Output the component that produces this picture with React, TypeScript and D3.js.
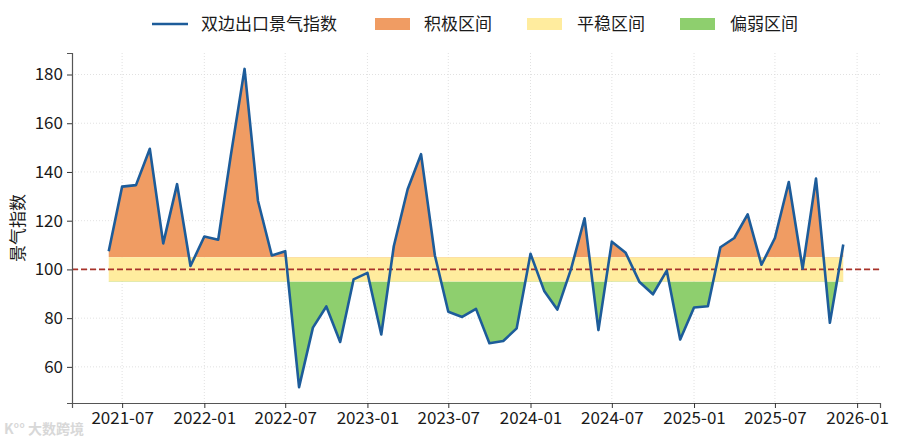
import * as d3 from "d3";
import { useEffect, useRef } from "react";

// monthly, 2021-06 .. 2025-12
const startMonth = "2021-06";
const indexValues = [
  107.5, 134.0, 134.6, 149.5, 110.7, 135.0, 101.4, 113.5, 112.2, 146.5,
  182.3, 128.2, 105.7, 107.5, 51.7, 76.1, 84.8, 70.2, 95.9, 98.6,
  73.3, 109.5, 132.9, 147.3, 105.7, 82.6, 80.5, 83.8, 69.7, 70.6,
  75.8, 106.4, 91.0, 83.5, 100.3, 121.0, 75.1, 111.4, 106.8, 94.8,
  89.8, 99.5, 71.2, 84.4, 84.9, 109.1, 112.9, 122.6, 101.9, 112.9,
  135.9, 100.3, 137.3, 78.1, 110.2,
];
const yTicks = [60, 80, 100, 120, 140, 160, 180];
const xTickLabels = [
  "2021-07", "2022-01", "2022-07", "2023-01", "2023-07",
  "2024-01", "2024-07", "2025-01", "2025-07", "2026-01",
];
const baseline = 100;
const bandLow = 95;
const bandHigh = 105;
const legendLabels = ["双边出口景气指数", "积极区间", "平稳区间", "偏弱区间"];

const FONT = "'Noto Sans CJK SC', 'Noto Sans', sans-serif";

export default function App() {
  const ref = useRef<SVGSVGElement | null>(null);

  useEffect(() => {
    const svg = d3.select(ref.current);
    svg.selectAll("*").remove();

    const width = 900;
    const height = 441;
    const left = 72;
    const right = 880;
    const top = 53;
    const bottom = 403;

    const parse = d3.timeParse("%Y-%m");
    const t0 = parse(startMonth) as Date;
    const data = indexValues.map((v, i) => ({ date: d3.timeMonth.offset(t0, i), v }));

    // matplotlib-like 5% margins
    const [d0, d1] = d3.extent(data, (d) => +d.date) as [number, number];
    const dx = (d1 - d0) * 0.05;
    const x = d3.scaleTime().domain([new Date(d0 - dx), new Date(d1 + dx)]).range([left, right]);
    const [v0, v1] = d3.extent(indexValues) as [number, number];
    const dv = (v1 - v0) * 0.05;
    const y = d3.scaleLinear().domain([v0 - dv, v1 + dv]).range([bottom, top]);

    const xTicks = xTickLabels.map((s) => parse(s) as Date);

    // grid
    const grid = svg.append("g");
    grid
      .selectAll("line.gy")
      .data(yTicks)
      .enter()
      .append("line")
      .attr("x1", left)
      .attr("x2", right)
      .attr("y1", (d) => y(d))
      .attr("y2", (d) => y(d))
      .attr("stroke", "#d9d9d9")
      .attr("stroke-width", 0.8)
      .attr("stroke-dasharray", "1,2");
    grid
      .selectAll("line.gx")
      .data(xTicks)
      .enter()
      .append("line")
      .attr("x1", (d) => x(d))
      .attr("x2", (d) => x(d))
      .attr("y1", top)
      .attr("y2", bottom)
      .attr("stroke", "#d9d9d9")
      .attr("stroke-width", 0.8)
      .attr("stroke-dasharray", "1,2");

    // neutral band
    svg
      .append("rect")
      .attr("x", x(data[0].date))
      .attr("width", x(data[data.length - 1].date) - x(data[0].date))
      .attr("y", y(bandHigh))
      .attr("height", y(bandLow) - y(bandHigh))
      .attr("fill", "#FFEC9E");

    const defs = svg.append("defs");
    defs
      .append("clipPath")
      .attr("id", "clipHigh")
      .append("rect")
      .attr("x", left)
      .attr("y", top - 20)
      .attr("width", right - left)
      .attr("height", y(bandHigh) - top + 20);
    defs
      .append("clipPath")
      .attr("id", "clipLow")
      .append("rect")
      .attr("x", left)
      .attr("y", y(bandLow))
      .attr("width", right - left)
      .attr("height", bottom - y(bandLow) + 20);

    const areaTo = (ref: number) =>
      d3
        .area<{ date: Date; v: number }>()
        .x((d) => x(d.date))
        .y0(y(ref))
        .y1((d) => y(d.v));

    svg
      .append("path")
      .datum(data)
      .attr("clip-path", "url(#clipHigh)")
      .attr("d", areaTo(bandHigh))
      .attr("fill", "#F09C63");
    svg
      .append("path")
      .datum(data)
      .attr("clip-path", "url(#clipLow)")
      .attr("d", areaTo(bandLow))
      .attr("fill", "#8ECF6E");

    // baseline
    svg
      .append("line")
      .attr("x1", left)
      .attr("x2", right)
      .attr("y1", y(baseline))
      .attr("y2", y(baseline))
      .attr("stroke", "#A8322A")
      .attr("stroke-width", 1.6)
      .attr("stroke-dasharray", "6,3");

    // index line
    svg
      .append("path")
      .datum(data)
      .attr(
        "d",
        d3
          .line<{ date: Date; v: number }>()
          .x((d) => x(d.date))
          .y((d) => y(d.v))
      )
      .attr("fill", "none")
      .attr("stroke", "#1D5C9A")
      .attr("stroke-width", 2.6)
      .attr("stroke-linejoin", "round");

    // axes
    const ax = svg
      .append("g")
      .attr("transform", `translate(0,${bottom})`)
      .call(
        d3
          .axisBottom(x)
          .tickValues(xTicks)
          .tickFormat((d) => d3.timeFormat("%Y-%m")(d as Date))
          .tickSizeOuter(0)
          .tickSize(5)
          .tickPadding(4)
      );
    const ay = svg
      .append("g")
      .attr("transform", `translate(${left},0)`)
      .call(d3.axisLeft(y).tickValues(yTicks).tickSizeOuter(0).tickSize(5).tickPadding(4));
    [ax, ay].forEach((g) => {
      g.select(".domain").attr("stroke", "#555").attr("stroke-width", 1.2);
      g.selectAll(".tick line").attr("stroke", "#333").attr("stroke-width", 1);
      g.selectAll(".tick text")
        .attr("fill", "#1a1a1a")
        .style("font-family", FONT)
        .style("font-size", "17px");
    });

    svg
      .append("text")
      .attr("transform", `translate(24,${(top + bottom) / 2}) rotate(-90)`)
      .attr("text-anchor", "middle")
      .style("font-family", FONT)
      .style("font-size", "17px")
      .attr("fill", "#1a1a1a")
      .text("景气指数");

    // legend
    const lg = svg.append("g").style("font-family", FONT).style("font-size", "17px");
    const ly = 24;
    lg.append("line")
      .attr("x1", 152)
      .attr("x2", 188)
      .attr("y1", ly)
      .attr("y2", ly)
      .attr("stroke", "#1D5C9A")
      .attr("stroke-width", 2.5);
    lg.append("text").attr("x", 201).attr("y", ly).attr("dy", "0.35em").attr("fill", "#1a1a1a").text(legendLabels[0]);
    const patches = [
      { px: 375, tx: 424, color: "#F09C63", label: legendLabels[1] },
      { px: 527, tx: 577, color: "#FFEC9E", label: legendLabels[2] },
      { px: 680, tx: 730, color: "#8ECF6E", label: legendLabels[3] },
    ];
    patches.forEach((p) => {
      lg.append("rect").attr("x", p.px).attr("y", ly - 6).attr("width", 35).attr("height", 12).attr("fill", p.color);
      lg.append("text").attr("x", p.tx).attr("y", ly).attr("dy", "0.35em").attr("fill", "#1a1a1a").text(p.label);
    });

    // watermark (kept clear of the first tick label)
    svg
      .append("text")
      .attr("x", 4)
      .attr("y", 434)
      .style("font-family", FONT)
      .style("font-size", "14px")
      .style("font-weight", "bold")
      .attr("fill", "#c8c8c8")
      .attr("opacity", 0.7)
      .text("K°° 大数跨境");

    svg.attr("width", width).attr("height", height);
  }, []);

  return (
    <svg
      ref={ref}
      width={900}
      height={441}
      style={{ position: "absolute", left: 0, top: 0, background: "#fff" }}
    />
  );
}
